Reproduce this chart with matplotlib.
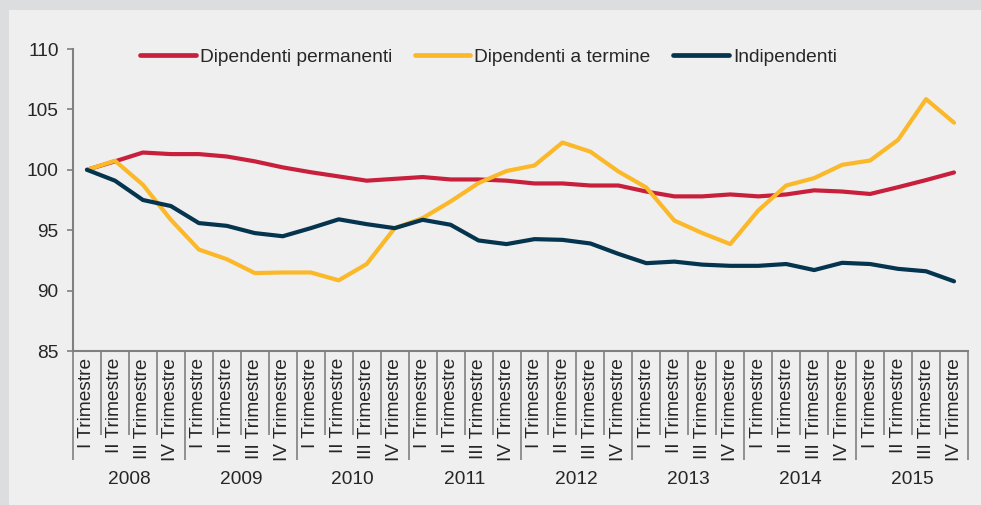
import matplotlib.pyplot as plt
import matplotlib.transforms as mtransforms
from matplotlib.patches import Rectangle

plt.rcParams['font.family'] = ['Liberation Sans', 'DejaVu Sans']

years = ["2008", "2009", "2010", "2011", "2012", "2013", "2014", "2015"]
quarters = ["I Trimestre", "II Trimestre", "III Trimestre", "IV Trimestre"]

permanenti = [100.0, 100.7, 101.43, 101.3, 101.3, 101.1, 100.7, 100.2,
              99.8, 99.45, 99.1, 99.25, 99.4, 99.2, 99.2, 99.1,
              98.87, 98.87, 98.7, 98.7, 98.2, 97.8, 97.8, 97.96,
              97.8, 97.96, 98.3, 98.2, 98.0, 98.56, 99.15, 99.78]
termine = [100.0, 100.75, 98.76, 95.86, 93.4, 92.6, 91.45, 91.5,
           91.5, 90.85, 92.2, 95.17, 96.0, 97.38, 98.9, 99.9,
           100.36, 102.26, 101.5, 99.86, 98.53, 95.8, 94.76, 93.85,
           96.63, 98.7, 99.31, 100.41, 100.77, 102.48, 105.85, 103.9]
indipendenti = [100.0, 99.1, 97.5, 97.0, 95.59, 95.36, 94.76, 94.5,
                95.17, 95.9, 95.5, 95.17, 95.86, 95.45, 94.15, 93.85,
                94.26, 94.2, 93.9, 93.04, 92.27, 92.4, 92.15, 92.05,
                92.05, 92.2, 91.7, 92.3, 92.2, 91.8, 91.6, 90.77]

labels = [q for y in years for q in quarters]
x = list(range(len(labels)))

border = '#dcdddf'
panel = '#efefef'
axis_grey = '#808080'
text_col = '#262626'
fs = 13.8

fig = plt.figure(figsize=(9.81, 5.05), dpi=100, facecolor=border)
fig.patches.append(Rectangle((9 / 981, 0), 1, 1 - 10 / 505, transform=fig.transFigure,
                             facecolor=panel, edgecolor='none', zorder=-10))

ax = fig.add_axes([73 / 981, 1 - 351 / 505, 895 / 981, 302 / 505])
ax.set_facecolor(panel)

ax.plot(x, permanenti, color='#c8203c', lw=3, label='Dipendenti permanenti', solid_capstyle='round')
ax.plot(x, termine, color='#fbb829', lw=3, label='Dipendenti a termine', solid_capstyle='round')
ax.plot(x, indipendenti, color='#05344f', lw=3, label='Indipendenti', solid_capstyle='round')

ax.set_ylim(85, 110)
ax.set_yticks(range(85, 111, 5))
ax.set_xlim(-0.5, len(labels) - 0.5)

for s in ['top', 'right']:
    ax.spines[s].set_visible(False)
for s in ['left', 'bottom']:
    ax.spines[s].set_color(axis_grey)
    ax.spines[s].set_linewidth(1.5)

ax.tick_params(axis='y', colors=axis_grey, labelcolor=text_col, labelsize=fs,
               length=4.3, width=1.2, pad=6)

# category separators: long ones at year boundaries, short ones between quarters
bounds = [i - 0.5 for i in range(len(labels) + 1)]
year_bounds = bounds[::4]
ax.set_xticks(year_bounds)
ax.set_xticklabels([])
ax.set_xticks([b for b in bounds if b not in year_bounds], minor=True)
ax.tick_params(axis='x', which='major', length=78.5, width=1.2, colors=axis_grey)
ax.tick_params(axis='x', which='minor', length=60.5, width=1.2, colors=axis_grey)

trans = mtransforms.blended_transform_factory(ax.transData, ax.transAxes)
for i, lab in enumerate(labels):
    ax.text(i, -0.023, lab, rotation=90, ha='center', va='top', fontsize=fs,
            color=text_col, transform=trans)
for k, yr in enumerate(years):
    ax.text(4 * k + 1.5, -0.427, yr, ha='center', va='center', fontsize=fs,
            color=text_col, transform=trans)

leg = ax.legend(loc='center left', bbox_to_anchor=(0.075, 0.973), ncol=3, frameon=False,
                fontsize=fs, handlelength=2.9, handletextpad=0.2, columnspacing=1.2,
                borderpad=0, borderaxespad=0)
for t in leg.get_texts():
    t.set_color(text_col)
for h in leg.get_lines():
    h.set_linewidth(3.4)

fig.savefig('out.png', dpi=100, facecolor=border)
